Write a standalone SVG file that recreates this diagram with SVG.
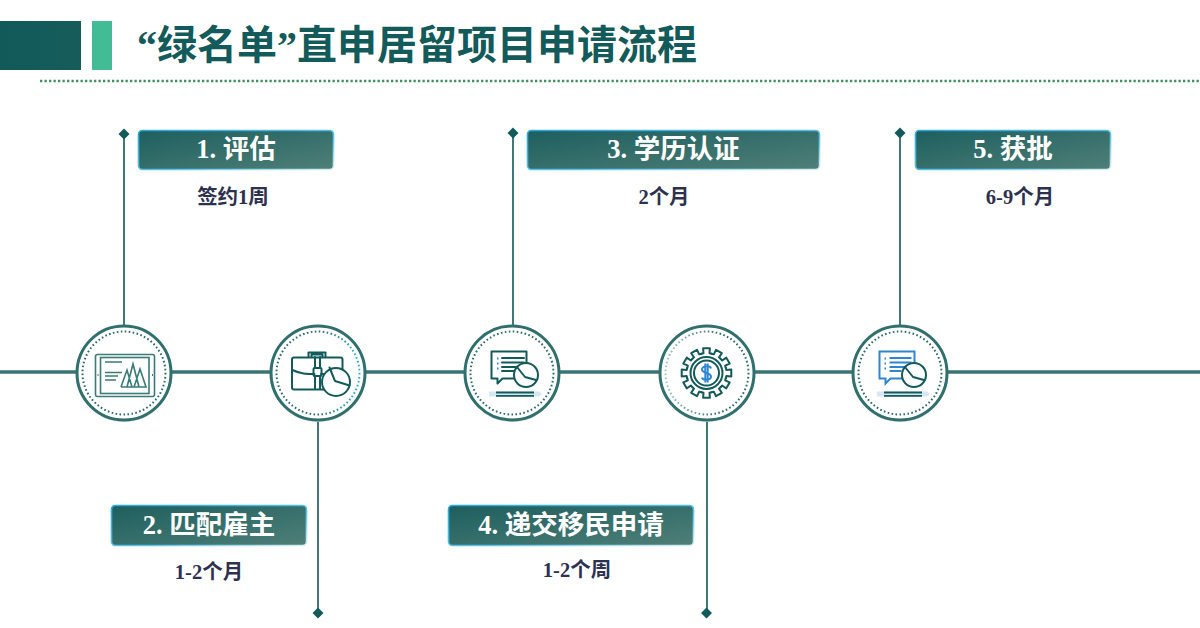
<svg xmlns="http://www.w3.org/2000/svg" xmlns:xlink="http://www.w3.org/1999/xlink" width="1200" height="628" viewBox="0 0 1200 628">
<style>
text{font-family:"Liberation Serif","Noto Sans CJK SC",serif;font-weight:700;text-anchor:middle}
.title{font-size:40px;fill:#135a5a;text-anchor:start}
.lab{font-size:26.500px;fill:#fff}
.sub{font-size:20.500px;fill:#2d3150}
.box{fill:url(#bg);stroke:url(#bs);stroke-width:1.600}
.line{stroke:#2c6b69;stroke-width:1.800;fill:none}
.main{stroke:#3a7472;stroke-width:3.400;fill:none}
.dia{fill:#135a5a}
.ring{fill:#fff;stroke:#2f6f6d;stroke-width:3}
.shade{fill:none;stroke:#d5e2e2;stroke-width:2}
.dot{fill:none;stroke:#2a6a68;stroke-width:2;stroke-dasharray:1.600 2.400}
.ic{fill:none;stroke:#135a5a;stroke-width:2;stroke-linejoin:round;stroke-linecap:round}
.ic1{fill:none;stroke:#3a7b78;stroke-width:1.600}
.blue{fill:none;stroke:#2f86d0;stroke-width:2}
</style>
<defs>
<linearGradient id="bg" x1="0" y1="0" x2="1" y2="1"><stop offset="0" stop-color="#1d5f5e"/><stop offset="1" stop-color="#4f7f78"/></linearGradient>
<linearGradient id="bs" x1="0" y1="0" x2="1" y2="1"><stop offset="0" stop-color="#2aa9dc"/><stop offset=".6" stop-color="#5cc4e6"/><stop offset="1" stop-color="#d6f0f6"/></linearGradient>
<linearGradient id="h" x1="0" y1="0" x2="1" y2="0"><stop offset="0" stop-color="#12595a"/><stop offset="1" stop-color="#155c5b"/></linearGradient>
<linearGradient id="d2" x1="0" y1="0" x2="1" y2="0"><stop offset=".5" stop-color="#2a6a68"/><stop offset="1" stop-color="#22b8d8"/></linearGradient>
<linearGradient id="d4" x1="0" y1="0" x2="1" y2="0"><stop offset="0" stop-color="#9cc4c2"/><stop offset=".7" stop-color="#2a6a68"/></linearGradient>
<path id="tooth" class="ic" d="M-5.200-19.300-3-19.800-3.400-24.800H3.400L3-19.800 5.200-19.300"/>
<g id="chart">
<path d="M0 0h35v27H11L6 32V27H0Z"/>
</g>
<g id="pencil" fill="none">
<path d="M-1 40.500h50l3 2.500-3 2.500H-1Z" fill="#d5e8f3" stroke="none"/>
<path d="M6 41.500H44M6 44.800H44" stroke="#135a5a" stroke-width="1.800"/>
</g>
</defs>

<g id="header">
<rect x="0" y="21" width="81" height="49" fill="url(#h)"/>
<rect x="92" y="21" width="20" height="49" fill="#41bc94"/>
<text class="title" x="137" y="59">“绿名单”直申居留项目申请流程</text>
<path d="M40 81H1200" stroke="#3f8f5f" stroke-width="2.600" stroke-dasharray="2.300 2.200" fill="none"/>
</g>

<g id="connectors">
<path class="main" d="M0 372H1200"/>
<path class="line" d="M124 134V326M318 420V613M513 133V326M707 420V613M900 133V326"/>
<path class="dia" d="M124 128.500l5.500 5.500-5.500 5.500-5.500-5.500ZM513 127.500l5.500 5.500-5.500 5.500-5.500-5.500ZM900 127.500l5.500 5.500-5.500 5.500-5.500-5.500ZM318 607.500l5.500 5.500-5.500 5.500-5.500-5.500ZM706.500 607.500l5.500 5.500-5.500 5.500-5.500-5.500Z"/>
</g>

<g id="node1">
<circle class="shade" cx="124" cy="374" r="47"/><circle class="ring" cx="124" cy="373" r="47"/><circle class="dot" cx="124" cy="373" r="41.500"/>
<rect class="ic1" x="95.500" y="354.500" width="59" height="42" rx="2"/>
<rect class="ic1" x="100.500" y="357.500" width="48.500" height="36"/>
<path class="ic1" d="M105 362h17M105 372.500h17M105 376h13M105 380h11M121 387l6-17 5 17M127 387l6-23 6 23M134 387l6-18 6 18ZM121 387h25"/>
<path d="M97.500 375h1M152 375h1" stroke="#3a7b78" stroke-width="2"/>
</g>

<g id="node2">
<circle class="shade" cx="318" cy="374" r="47"/><circle class="ring" cx="318" cy="373" r="47"/><circle class="dot" style="stroke:url(#d2)" cx="318" cy="373" r="41.500"/>
<rect class="ic" x="292" y="357.500" width="50.500" height="32" rx="2"/>
<path class="ic" d="M292.500 370c8 4 14 4 22 4M321 374h9M308.500 357v-4.500h17v4.500M311.500 357v-2.500h11v2.500M315 357v11M320 357v11M315 376v13M320 376v13"/>
<rect class="ic" x="313.500" y="368" width="8" height="8" rx="1"/>
<circle cx="336" cy="382" r="14" fill="#fff" stroke="#135a5a" stroke-width="2"/>
<path class="ic" d="M329.500 367.500 335 381l14.500 4.500"/>
</g>

<g id="node3">
<circle class="shade" cx="512" cy="374" r="47"/><circle class="ring" cx="512" cy="373" r="47"/><circle class="dot" cx="512" cy="373" r="41.500"/>
<use xlink:href="#chart" x="491.500" y="351.500" class="ic"/>
<path d="M497 358.500h1.500M497 363.500h1.500M497 368.500h1.500" stroke="#2f86d0" stroke-width="2"/>
<path class="ic" d="M502 358h22M502 362.500h22M502 367h17M502 371h12"/>
<circle cx="526" cy="375" r="12" fill="#fff" stroke="#135a5a" stroke-width="2"/>
<path class="ic" d="M517 367l8 10 11 3"/>
<use xlink:href="#pencil" x="490" y="351"/>
</g>

<g id="node4">
<circle class="shade" cx="707" cy="374" r="47"/><circle class="ring" cx="707" cy="373" r="47"/><circle class="dot" style="stroke:url(#d4)" cx="707" cy="373" r="41.500"/>
<g transform="translate(706.500 373)">
<use xlink:href="#tooth"/><use xlink:href="#tooth" transform="rotate(30)"/><use xlink:href="#tooth" transform="rotate(60)"/><use xlink:href="#tooth" transform="rotate(90)"/><use xlink:href="#tooth" transform="rotate(120)"/><use xlink:href="#tooth" transform="rotate(150)"/><use xlink:href="#tooth" transform="rotate(180)"/><use xlink:href="#tooth" transform="rotate(210)"/><use xlink:href="#tooth" transform="rotate(240)"/><use xlink:href="#tooth" transform="rotate(270)"/><use xlink:href="#tooth" transform="rotate(300)"/><use xlink:href="#tooth" transform="rotate(330)"/>
<circle class="ic" r="16"/><circle class="ic" r="12.500"/>
<path class="blue" d="M4.500-4.500C4-7.500-4.500-7.500-4.500-3.500-4.500 .5 4.500-.5 4.500 3.500 4.500 7.500-4 7.500-4.500 4.500M-1.200-9.500V9.500M1.200-9.500V9.500"/>
</g>
</g>

<g id="node5">
<circle class="shade" cx="900" cy="374" r="47"/><circle class="ring" cx="900" cy="373" r="47"/><circle class="dot" cx="900" cy="373" r="41.500"/>
<use xlink:href="#chart" x="879.500" y="351.500" class="blue"/>
<path d="M884.500 358.500h1.500M884.500 363.500h1.500M884.500 368.500h1.500" stroke="#2f86d0" stroke-width="2"/>
<path class="blue" style="stroke-width:1.800" d="M889.500 358h22M889.500 362.500h22M889.500 367h17M889.500 371h12"/>
<circle cx="914" cy="375" r="12" fill="#fff" stroke="#135a5a" stroke-width="2"/>
<path class="ic" d="M905 367l8 10 11 3"/>
<use xlink:href="#pencil" x="878" y="351"/>
</g>

<g id="step1"><rect class="box" x="138.500" y="130.500" width="195" height="39" rx="4"/><text class="lab" x="236" y="158">1. 评估</text><text class="sub" x="233" y="204">签约1周</text></g>
<g id="step2"><rect class="box" x="111.500" y="505.500" width="195" height="40" rx="4"/><text class="lab" x="209" y="534">2. 匹配雇主</text><text class="sub" x="209" y="579">1-2个月</text></g>
<g id="step3"><rect class="box" x="527.500" y="130.500" width="292" height="39" rx="4"/><text class="lab" x="673.500" y="158">3. 学历认证</text><text class="sub" x="664" y="204">2个月</text></g>
<g id="step4"><rect class="box" x="448.500" y="505.500" width="245" height="40" rx="4"/><text class="lab" x="571" y="534">4. 递交移民申请</text><text class="sub" x="577" y="577">1-2个周</text></g>
<g id="step5"><rect class="box" x="915.500" y="130.500" width="195" height="39" rx="4"/><text class="lab" x="1013" y="158">5. 获批</text><text class="sub" x="1020" y="204">6-9个月</text></g>
</svg>
